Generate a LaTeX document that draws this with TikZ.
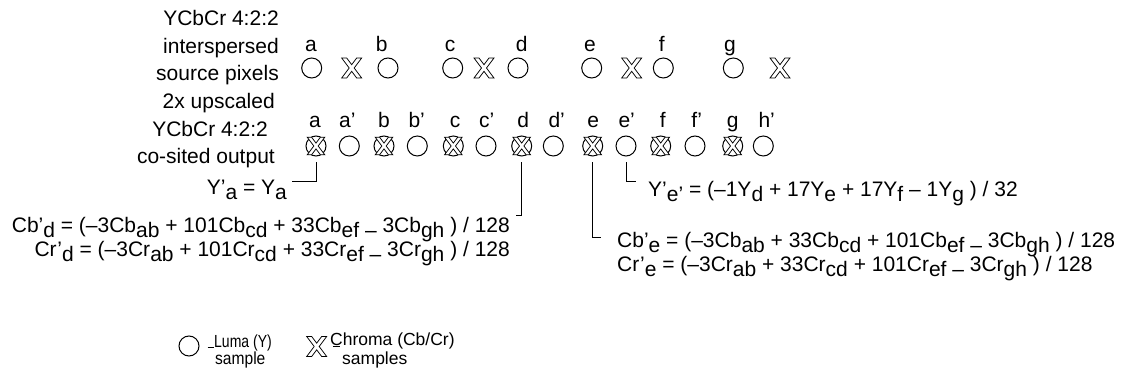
\documentclass[tikz,border=0pt]{standalone}
\usepackage{fontspec}
\setmainfont{Liberation Sans}
\newcommand\sbs[1]{\raisebox{-5pt}{#1}}
\tikzset{
  sym/.style={circle,draw,line width=1pt,minimum size=20pt,inner sep=0pt},
  hole/.style={minimum size=20pt,inner sep=0pt},
  txt/.style={font=\fontsize{21}{25}\selectfont,inner sep=0pt},
  lbl/.style={txt,anchor=base},
  legtxt/.style={font=\fontsize{17.5}{20}\selectfont,inner sep=0pt,anchor=base west},
  lead/.style={line width=1pt},
  pics/xmark/.style={code={
    \draw[line width=0.75pt,fill=white,line join=miter]
      (-10,10) -- (-5,10) -- (0,3.33) -- (5,10) -- (10,10) -- (2.5,0) --
      (10,-10) -- (5,-10) -- (0,-3.33) -- (-5,-10) -- (-10,-10) -- (-2.5,0) -- cycle;}},
  cosited/.style={scale=0.88},
}
\begin{document}
\begin{tikzpicture}[x=1pt,y=-1pt]
\useasboundingbox (0,0) rectangle (1127,379);
% left labels
\node[txt,anchor=base east] (t1) at (279,26) {YCbCr 4:2:2};
\node[txt,anchor=base east] (t2) at (279,53.5) {interspersed};
\node[txt,anchor=base east] (t3) at (279,81) {source pixels};
\node[txt,anchor=base east] (t4) at (275,109) {2x upscaled};
\node[txt,anchor=base east] (t5) at (268,136.5) {YCbCr 4:2:2};
\node[txt,anchor=base east] (t6) at (275,164) {co-sited output};
% row 1 source pixels
\node[sym] (sa) at (311.7,68) {};
\node[hole] (xab) at (351.7,68) {}; \pic at (xab) {xmark};
\node[sym] (sb) at (388,68) {};
\node[sym] (sc) at (452.7,68) {};
\node[hole] (xcd) at (484,68) {}; \pic at (xcd) {xmark};
\node[sym] (sd) at (518,68) {};
\node[sym] (se) at (591.7,68) {};
\node[hole] (xef) at (631.7,68) {}; \pic at (xef) {xmark};
\node[sym] (sf) at (663.3,68) {};
\node[sym] (sg) at (733.3,68) {};
\node[hole] (xgh) at (780,68) {}; \pic at (xgh) {xmark};
\node[lbl] (la) at (311,52) {a};
\node[lbl] (lb) at (381.7,52) {b};
\node[lbl] (lc) at (450,52) {c};
\node[lbl] (ld) at (521.7,52) {d};
\node[lbl] (le) at (590,52) {e};
\node[lbl] (lf) at (661.7,52) {f};
\node[lbl] (lg) at (730,52) {g};
% row 2 output
\node[sym] (oa) at (316,146) {}; \pic[cosited] at (oa) {xmark};
\node[sym] (oap) at (349.3,146) {};
\node[sym] (ob) at (384,146) {}; \pic[cosited] at (ob) {xmark};
\node[sym] (obp) at (417.3,146) {};
\node[sym] (oc) at (453.3,146) {}; \pic[cosited] at (oc) {xmark};
\node[sym] (ocp) at (486,146) {};
\node[sym] (od) at (521.7,146) {}; \pic[cosited] at (od) {xmark};
\node[sym] (odp) at (553.3,146) {};
\node[sym] (oe) at (592.7,146) {}; \pic[cosited] at (oe) {xmark};
\node[sym] (oep) at (626,146) {};
\node[sym] (of) at (660.7,146) {}; \pic[cosited] at (of) {xmark};
\node[sym] (ofp) at (695,146) {};
\node[sym] (og) at (732.7,146) {}; \pic[cosited] at (og) {xmark};
\node[sym] (ohp) at (763.3,146) {};
\node[lbl] (ma) at (315,128) {a};
\node[lbl] (map) at (347.3,128) {a’};
\node[lbl] (mb) at (384,128) {b};
\node[lbl] (mbp) at (416.7,128) {b’};
\node[lbl] (mc) at (455,128) {c};
\node[lbl] (mcp) at (486.7,128) {c’};
\node[lbl] (md) at (523.3,128) {d};
\node[lbl] (mdp) at (556.7,128) {d’};
\node[lbl] (me) at (593.3,128) {e};
\node[lbl] (mep) at (626.7,128) {e’};
\node[lbl] (mf) at (662.7,128) {f};
\node[lbl] (mfp) at (696.7,128) {f’};
\node[lbl] (mg) at (732.7,128) {g};
\node[lbl] (mhp) at (766.7,128) {h’};
% equations
\node[txt,anchor=base east] (eqa) at (287,195) {Y’\sbs{a} = Y\sbs{a}};
\node[txt,anchor=base west] (eqep) at (648,197) {Y’\sbs{e’} = (–1Y\sbs{d} + 17Y\sbs{e} + 17Y\sbs{f} – 1Y\sbs{g} ) / 32};
\node[txt,anchor=base east] (eqcbd) at (510,233) {Cb’\sbs{d} = (–3Cb\sbs{ab} + 101Cb\sbs{cd} + 33Cb\sbs{ef –} 3Cb\sbs{gh} ) / 128};
\node[txt,anchor=base east] (eqcrd) at (510,257) {Cr’\sbs{d} = (–3Cr\sbs{ab} + 101Cr\sbs{cd} + 33Cr\sbs{ef –} 3Cr\sbs{gh} ) / 128};
\node[txt,anchor=base west] (eqcbe) at (617,248) {Cb’\sbs{e} = (–3Cb\sbs{ab} + 33Cb\sbs{cd} + 101Cb\sbs{ef –} 3Cb\sbs{gh} ) / 128};
\node[txt,anchor=base west] (eqcre) at (617,272) {Cr’\sbs{e} = (–3Cr\sbs{ab} + 33Cr\sbs{cd} + 101Cr\sbs{ef –} 3Cr\sbs{gh} ) / 128};
% leaders
\coordinate (ya) at (292,182);
\coordinate (yd) at (516,216);
\coordinate (ye) at (601,238);
\coordinate (yep) at (636,182);
\draw[lead] ([yshift=-6pt]oa.south) |- (ya);
\draw[lead] ([yshift=-6pt]od.south) |- (yd);
\draw[lead] ([yshift=-6pt]oe.south) |- (ye);
\draw[lead] ([yshift=-6pt]oep.south) |- (yep);
% legend
\node[sym] (lg1) at (189,346) {};
\draw[lead] ([xshift=8pt,yshift=-1.5pt]lg1.east) -- ++(6,0);
\node[legtxt] (lgt1) at (214,347.5) {\scalebox{0.8}[1]{Luma (Y)}};
\node[legtxt] (lgt1b) at (215,364) {\scalebox{0.89}[1]{sample}};
\node[hole] (lg2) at (316.7,346.5) {}; \pic at (lg2) {xmark};
\draw[lead] ([xshift=6pt]lg2.east) -- ++(7,0);
\node[legtxt] (lgt2) at (330,345.7) {Chroma (Cb/Cr)};
\node[legtxt] (lgt2b) at (342,364) {samples};
\end{tikzpicture}
\end{document}
